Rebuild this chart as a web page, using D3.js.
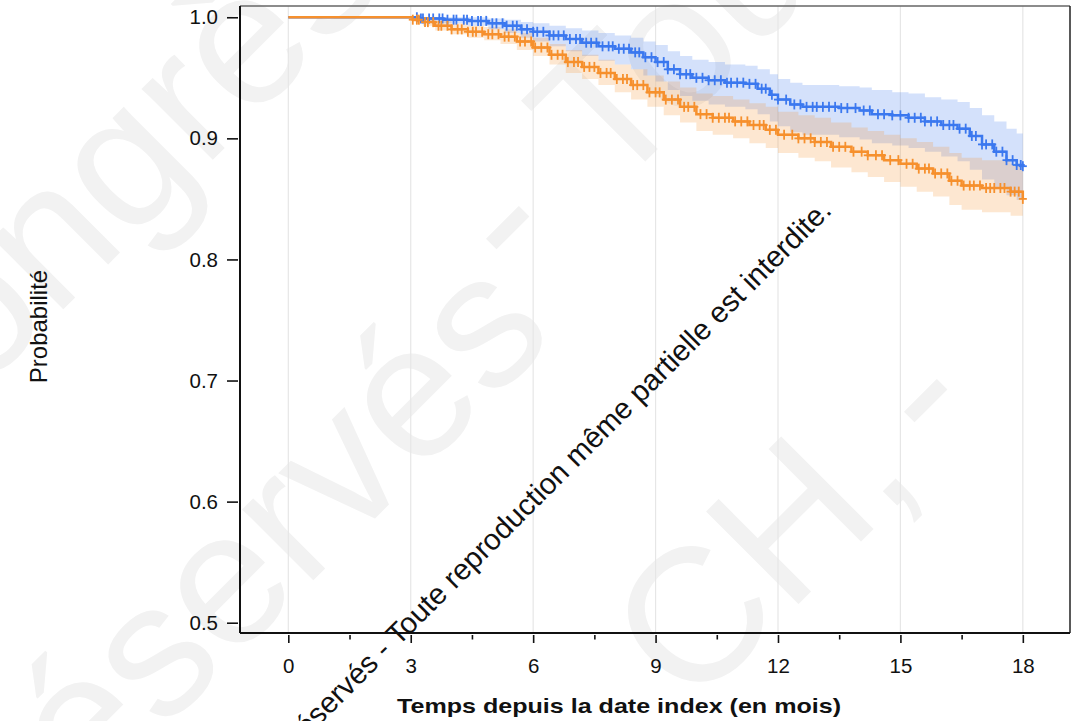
<!DOCTYPE html>
<html><head><meta charset="utf-8">
<script src="https://cdn.jsdelivr.net/npm/d3@7"></script>
<style>
body{margin:0;background:#fff}
svg{display:block}
text{font-family:"Liberation Sans",Arial,Helvetica,sans-serif}
</style>
</head><body>
<svg id="chart" width="1089" height="721"></svg>
<script>
// ---- data ----
const blueTime  = [0,3.2,3.8,4.4,4.9,5.3,5.7,6.0,6.4,6.8,7.2,7.6,8.0,8.4,8.7,9.0,9.3,9.6,9.9,10.3,10.7,11.2,11.5,11.8,12.0,12.3,12.6,13.5,14.0,14.3,14.8,15.2,15.6,16.0,16.4,16.7,17.0,17.3,17.6,17.85,18.0];
const blueSurv  = [1.000,0.999,0.998,0.997,0.995,0.993,0.990,0.988,0.985,0.982,0.979,0.976,0.974,0.971,0.967,0.963,0.957,0.953,0.950,0.948,0.946,0.945,0.941,0.936,0.932,0.928,0.926,0.925,0.923,0.920,0.919,0.917,0.914,0.911,0.908,0.902,0.895,0.889,0.882,0.878,0.877];
const blueLower = [1.000,0.997,0.995,0.993,0.990,0.987,0.983,0.980,0.976,0.972,0.968,0.964,0.961,0.957,0.952,0.947,0.940,0.935,0.931,0.928,0.926,0.924,0.920,0.914,0.910,0.905,0.903,0.901,0.899,0.896,0.894,0.892,0.889,0.885,0.881,0.874,0.866,0.860,0.853,0.849,0.848];
const blueUpper = [1.000,1.000,1.000,1.000,0.999,0.998,0.996,0.995,0.993,0.991,0.989,0.987,0.985,0.983,0.980,0.977,0.972,0.968,0.965,0.963,0.961,0.960,0.957,0.953,0.949,0.946,0.944,0.943,0.942,0.940,0.938,0.937,0.934,0.932,0.930,0.925,0.919,0.914,0.908,0.904,0.903];

const orangeTime  = [0,3.05,3.3,3.6,4.0,4.4,4.8,5.2,5.6,6.0,6.4,6.8,7.2,7.6,8.0,8.4,8.8,9.2,9.6,10.0,10.4,10.9,11.3,11.7,12.0,12.5,12.9,13.3,13.8,14.2,14.6,15.0,15.4,15.8,16.2,16.5,17.0,17.7,18.0];
const orangeSurv  = [1.000,0.998,0.996,0.993,0.990,0.988,0.986,0.984,0.980,0.975,0.969,0.963,0.959,0.954,0.949,0.944,0.938,0.932,0.926,0.920,0.917,0.914,0.911,0.907,0.903,0.900,0.897,0.893,0.889,0.886,0.882,0.879,0.875,0.871,0.865,0.861,0.859,0.856,0.850];
const orangeLower = [1.000,0.996,0.993,0.989,0.986,0.983,0.981,0.978,0.973,0.968,0.961,0.954,0.949,0.944,0.938,0.932,0.926,0.919,0.913,0.906,0.903,0.900,0.896,0.892,0.888,0.884,0.881,0.876,0.872,0.868,0.864,0.860,0.856,0.852,0.845,0.841,0.839,0.836,0.830];
const orangeUpper = [1.000,1.000,0.999,0.997,0.995,0.993,0.992,0.990,0.987,0.983,0.978,0.973,0.969,0.965,0.961,0.957,0.952,0.947,0.942,0.937,0.935,0.932,0.929,0.926,0.922,0.919,0.917,0.913,0.909,0.906,0.903,0.900,0.897,0.893,0.888,0.884,0.882,0.879,0.874];

const blueCensor = [3.15,3.25,3.3,3.45,3.55,3.7,3.78,3.9,4.05,4.12,4.3,4.38,4.5,4.65,4.72,4.85,5.0,5.1,5.25,5.35,5.5,5.6,5.72,5.85,6.0,6.1,6.25,6.4,6.5,6.62,6.75,6.9,7.05,7.15,7.3,7.42,7.55,7.7,7.85,7.95,8.1,8.22,8.35,8.5,8.6,8.75,8.9,9.05,9.2,9.3,9.45,9.6,9.75,9.85,10.0,10.15,10.3,10.45,10.6,10.75,10.85,11.0,11.15,11.3,11.45,11.6,11.7,11.85,12.0,12.2,12.4,12.55,12.7,12.85,12.95,13.1,13.25,13.4,13.55,13.7,13.9,14.1,14.25,14.45,14.6,14.8,15.0,15.2,15.35,15.5,15.6,15.75,15.9,16.05,16.2,16.3,16.45,16.6,16.75,16.85,17.0,17.1,17.25,17.35,17.5,17.6,17.75,17.85,17.95,18.0];
const orangeCensor = [3.05,3.15,3.2,3.35,3.42,3.55,3.68,3.75,3.9,4.0,4.15,4.25,4.4,4.52,4.6,4.75,4.9,5.0,5.15,5.3,5.4,5.55,5.68,5.8,5.95,6.05,6.2,6.35,6.45,6.6,6.72,6.85,7.0,7.1,7.25,7.38,7.5,7.65,7.8,7.9,8.05,8.2,8.3,8.45,8.55,8.7,8.85,9.0,9.1,9.25,9.4,9.55,9.7,9.8,9.95,10.1,10.25,10.4,10.55,10.7,10.8,10.95,11.1,11.25,11.4,11.55,11.65,11.8,11.95,12.15,12.35,12.5,12.65,12.8,12.9,13.05,13.2,13.35,13.5,13.65,13.85,14.05,14.2,14.4,14.55,14.75,14.95,15.15,15.3,15.45,15.6,15.7,15.85,16.0,16.15,16.25,16.4,16.55,16.7,16.8,16.95,17.1,17.2,17.3,17.45,17.55,17.7,17.8,17.9,18.0];

const xTicks = [0,3,6,9,12,15,18];
const xMinorTicks = [1.5,4.5,7.5,10.5,13.5,16.5];
const yTicks = [0.5,0.6,0.7,0.8,0.9,1.0];
const xTitle = "Temps depuis la date index (en mois)";
const yTitle = "Probabilité";
const noticeText = "réservés - Toute reproduction même partielle est interdite.";
const bgMarks = ["Congrès", "réservés", "-", "Tous", "CH,", "-"];

// ---- layout ----
const svg = d3.select("#chart");
const L = 240, R = 1070, T = 6, B = 633;
const x = d3.scaleLinear().domain([-1.184, 19.156]).range([L, R]);
const y = d3.scaleLinear().domain([0.4915, 1.0093]).range([B, T]);

const blueColor = "#3b78ef", orangeColor = "#f6902d";

// faint background watermark
const bgPos = [[100,200],[264,557],[507,227],[716,18],[770,560],[925,400]];
bgMarks.forEach((w,i)=>{
  svg.append("text").attr("transform",`translate(${bgPos[i][0]},${bgPos[i][1]}) rotate(-45)`)
    .attr("text-anchor","middle").attr("dy","0.27em")
    .style("font-size","190px").attr("fill","#f2f2f2").text(w);
});

// gridlines
svg.append("g").selectAll("line").data(xTicks).join("line")
  .attr("x1",d=>x(d)).attr("x2",d=>x(d)).attr("y1",T).attr("y2",B)
  .attr("stroke","#e6e6e6").attr("stroke-width",1.2);

function series(time,surv,lo,hi){ return time.map((t,i)=>({t,s:surv[i],lo:lo[i],hi:hi[i]})); }
const blue = series(blueTime,blueSurv,blueLower,blueUpper);
const orange = series(orangeTime,orangeSurv,orangeLower,orangeUpper);

const area = d3.area().curve(d3.curveStepAfter).x(d=>x(d.t)).y0(d=>y(d.lo)).y1(d=>y(d.hi));
const line = d3.line().curve(d3.curveStepAfter).x(d=>x(d.t)).y(d=>y(d.s));

svg.append("path").datum(blue).attr("d",area).attr("fill",blueColor).attr("fill-opacity",0.22);
svg.append("path").datum(orange).attr("d",area).attr("fill",orangeColor).attr("fill-opacity",0.22);

svg.append("path").datum(blue).attr("d",line).attr("fill","none").attr("stroke",blueColor).attr("stroke-width",2.5);
svg.append("path").datum(orange).attr("d",line).attr("fill","none").attr("stroke",orangeColor).attr("stroke-width",2.5);

function stepVal(time,surv,t){ let v=surv[0]; for(let i=0;i<time.length;i++){ if(time[i]<=t) v=surv[i]; } return v; }
function censors(times,time,surv,color){
  const g = svg.append("g").attr("stroke",color).attr("stroke-width",1.8);
  times.forEach(t=>{
    const cx=x(t), cy=y(stepVal(time,surv,t));
    g.append("line").attr("x1",cx).attr("x2",cx).attr("y1",cy-5).attr("y2",cy+5);
    g.append("line").attr("x1",cx-4).attr("x2",cx+4).attr("y1",cy).attr("y2",cy);
  });
}
censors(blueCensor,blueTime,blueSurv,blueColor);
censors(orangeCensor,orangeTime,orangeSurv,orangeColor);

// frame
svg.append("line").attr("x1",L).attr("x2",R).attr("y1",T).attr("y2",T).attr("stroke","#666").attr("stroke-width",1.5);
svg.append("line").attr("x1",R).attr("x2",R).attr("y1",T).attr("y2",B).attr("stroke","#222").attr("stroke-width",1.5);
svg.append("line").attr("x1",L).attr("x2",R).attr("y1",B).attr("y2",B).attr("stroke","#111").attr("stroke-width",2);
svg.append("line").attr("x1",L).attr("x2",L).attr("y1",T).attr("y2",B).attr("stroke","#111").attr("stroke-width",2);

// axes
const xAxis = svg.append("g").attr("transform",`translate(0,${B+2})`)
  .call(d3.axisBottom(x).tickValues(xTicks).tickSize(8).tickPadding(15).tickFormat(d3.format("d")));
const xMinor = svg.append("g").attr("transform",`translate(0,${B+2})`)
  .call(d3.axisBottom(x).tickValues(xMinorTicks).tickSize(4.5).tickFormat(""));
const yAxis = svg.append("g").attr("transform",`translate(${L-2},0)`)
  .call(d3.axisLeft(y).tickValues(yTicks).tickSize(11).tickPadding(9).tickFormat(d3.format(".1f")));
[xAxis,xMinor,yAxis].forEach(a=>{
  a.select(".domain").remove();
  a.selectAll(".tick line").attr("stroke","#111").attr("stroke-width",1.6);
  a.selectAll("text").style("font-size","20.5px").attr("fill","#111").style("font-family",'"Liberation Sans",Arial,sans-serif');
});

// titles
svg.append("text").attr("x",619).attr("y",713).attr("text-anchor","middle")
  .style("font-size","21px").style("font-weight","bold").attr("fill","#111")
  .attr("textLength",444).attr("lengthAdjust","spacingAndGlyphs").text(xTitle);
svg.append("text").attr("transform","translate(47,326.5) rotate(-90)").attr("text-anchor","middle")
  .style("font-size","24px").attr("fill","#111").text(yTitle);

// diagonal notice
svg.append("text").attr("transform","translate(833,212) rotate(-45)").attr("text-anchor","end")
  .style("font-size","29.5px").attr("fill","#111").text(noticeText);
</script>
</body></html>
